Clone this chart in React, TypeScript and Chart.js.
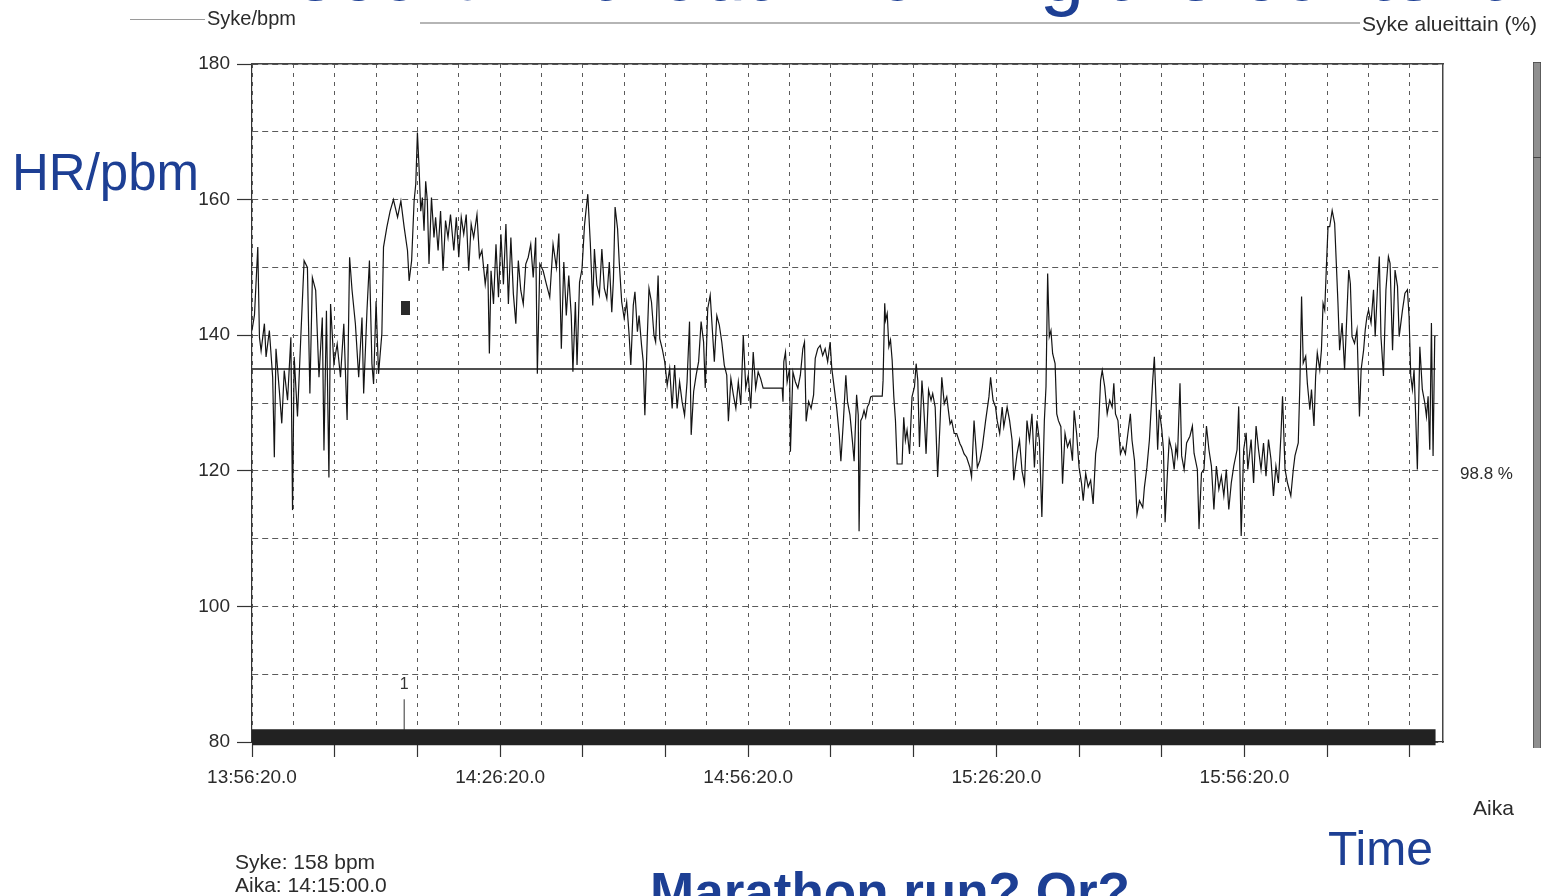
import React, { useEffect, useRef } from "react";
import { Chart, registerables } from "chart.js";

Chart.register(...registerables);

// ---- Axis labels ----
const xLabelMinutes = [0, 30, 60, 90, 120];
const xTickLabels = ["13:56:20.0", "14:26:20.0", "14:56:20.0", "15:26:20.0", "15:56:20.0"];
const yLabelValues = [80, 100, 120, 140, 160, 180];

// ---- Heart rate trace: [minutes from 13:56:20, bpm] ----
const hrSegment1: [number, number][] = [
  [0.0, 140.7], [0.3, 143], [0.7, 153], [0.9, 139.7], [1.1, 137.7], [1.5, 141.7], [1.7, 136.8], [2.1, 140.7],
  [2.5, 133.8], [2.7, 122], [2.9, 138], [3.3, 131.9], [3.6, 127], [3.9, 134.8], [4.3, 130.4], [4.7, 139.7],
  [4.9, 114.2], [5.1, 136.8], [5.5, 128], [5.9, 139.7], [6.3, 151], [6.7, 150], [7.0, 131.4], [7.3, 148.5],
  [7.7, 146.6], [8.1, 133.8], [8.5, 142.6], [8.7, 123], [9.0, 143.6], [9.3, 119], [9.5, 144.6], [9.9, 135.8],
  [10.3, 138.7], [10.7, 133.8], [11.1, 141.7], [11.5, 127.5], [11.8, 151.5], [12.1, 146.6], [12.5, 141.7],
  [12.9, 133.8], [13.3, 142.6], [13.5, 131.4], [13.9, 143.6], [14.2, 151], [14.5, 135.8], [14.7, 132.8],
  [15.0, 145], [15.3, 134.3], [15.7, 140.2], [15.9, 153], [16.3, 155.9], [16.7, 158.3], [17.1, 160],
  [17.6, 157.4], [18.0, 159.8], [18.4, 155.9], [18.8, 152.5], [19.0, 148], [19.3, 151], [19.6, 159.8],
  [19.8, 162.3], [20.0, 169.9], [20.2, 164.7], [20.4, 158.3], [20.6, 160.3], [20.8, 155.4], [21.0, 162.7],
  [21.2, 159.8], [21.4, 150.5], [21.7, 160.3], [22.0, 154.4], [22.2, 157.4], [22.5, 152.5], [22.8, 158.3],
  [23.1, 149.5], [23.4, 156.9], [23.7, 154.4], [24.0, 157.8], [24.4, 152.5], [24.7, 157.4], [25.0, 151.5],
  [25.3, 157.4], [25.6, 154.9], [25.9, 157.8], [26.2, 149.5], [26.5, 156.4], [26.8, 154.4], [27.2, 157.8],
  [27.5, 151.5], [27.8, 152.5], [28.2, 147.5], [28.5, 150.5], [28.7, 137.3], [28.9, 149.5], [29.2, 144.6],
  [29.5, 153.4], [29.8, 145.6], [30.1, 154.9], [30.4, 147.5], [30.7, 156.4], [31.0, 144.6], [31.3, 154.4],
  [31.6, 146.1], [31.9, 141.7], [32.2, 151], [32.5, 146.6], [32.8, 144.6], [33.1, 150.5], [33.4, 151.5],
  [33.7, 153.4], [34.0, 148.5], [34.3, 154.4], [34.5, 134.3], [34.8, 150.5], [35.2, 149.5], [35.6, 147.5],
  [36.0, 145.6], [36.4, 153.4], [36.8, 150],
];

const hrSegment2: [number, number][] = [
  [37.1, 155], [37.4, 138], [37.7, 150.8], [38.0, 142.9], [38.3, 148.8], [38.6, 142.9], [38.8, 134.6],
  [39.1, 144.9], [39.3, 135.6], [39.6, 147.8], [39.9, 149.8], [40.2, 156.2], [40.4, 158.6], [40.6, 160.8],
  [40.9, 153.7], [41.2, 144.4], [41.4, 152.7], [41.7, 147.4], [42.0, 145.9], [42.3, 152.7], [42.6, 146.9],
  [42.9, 145.4], [43.2, 150.8], [43.5, 143.4], [43.7, 148.3], [43.9, 158.9], [44.2, 155.7], [44.4, 150.8],
  [44.7, 144.9], [45.0, 142.5], [45.3, 144.9], [45.6, 140], [45.8, 135.6], [46.1, 144.4], [46.3, 146.4],
  [46.6, 140.5], [46.8, 142.9], [47.1, 138.5], [47.3, 136.1], [47.5, 128.2], [47.8, 140], [48.0, 146.9],
  [48.3, 144.9], [48.6, 140], [48.8, 139], [49.1, 148.8], [49.3, 139.5], [49.6, 138], [49.9, 136.1],
  [50.2, 132.6], [50.5, 135.1], [50.8, 129.2], [51.1, 135.6], [51.4, 129.2], [51.7, 133.1], [52.0, 130.2],
  [52.3, 128.2], [52.6, 133.1], [52.9, 142], [53.1, 125.3], [53.4, 131.7], [53.7, 134.1], [54.0, 136.1],
  [54.3, 142], [54.6, 139], [54.8, 132.2], [55.1, 143.9], [55.4, 145.9], [55.7, 140], [55.9, 136.1],
  [56.2, 142.9], [56.5, 141.5], [56.8, 139], [57.1, 135.6], [57.4, 134.1], [57.6, 127.3], [57.9, 133.6],
  [58.2, 131.2], [58.5, 129.2], [58.8, 133.1], [59.1, 129.7], [59.4, 140], [59.7, 132.2], [60.0, 134.1],
  [60.3, 129.2], [60.6, 137.5], [60.9, 132.2], [61.2, 134.6], [61.5, 133.6], [61.8, 132.2], [64.1, 132.2],
  [64.2, 130.2], [64.3, 136.1], [64.5, 137.5], [64.7, 133.1], [65.0, 135.1], [65.1, 122.8], [65.4, 134.6],
  [65.7, 133.1], [66.0, 132.2], [66.3, 134.1], [66.6, 138], [66.8, 139], [67.0, 127.3], [67.3, 130.2],
  [67.6, 129.2], [67.9, 131.2], [68.1, 136.6], [68.4, 138], [68.7, 138.5], [69.0, 137], [69.3, 138],
  [69.6, 136.1], [69.9, 139], [70.1, 135.1], [70.4, 132.2], [70.7, 129.2], [71.0, 125.3], [71.2, 121.4],
  [71.5, 127.3], [71.8, 134.1], [72.0, 130.2], [72.3, 128.2], [72.6, 124.3], [72.8, 121.4], [73.1, 131.2],
  [73.3, 128.2], [73.4, 111.1],
];

const hrSegment3: [number, number][] = [
  [73.6, 127.4], [73.8, 127.9], [74.0, 128.9], [74.2, 127.9], [74.4, 129.4], [74.6, 129.9], [74.8, 130.9],
  [75.0, 131], [76.2, 131], [76.3, 133.3], [76.5, 144.7], [76.6, 142.2], [76.8, 143.2], [77.0, 138.3],
  [77.2, 139.3], [77.4, 136.3], [77.6, 130.9], [77.8, 127.4], [78.0, 121], [78.6, 121], [78.8, 127.9],
  [79.0, 124.5], [79.2, 126], [79.5, 122.5], [79.8, 130.9], [80.1, 132.4], [80.3, 135.8], [80.5, 133.3],
  [80.7, 123.5], [81.0, 133.3], [81.2, 129.9], [81.5, 122.5], [81.8, 131.9], [82.1, 130.4], [82.3, 131.4],
  [82.6, 129.4], [82.9, 119.1], [83.2, 127.4], [83.4, 133.8], [83.7, 129.9], [84.0, 130.9], [84.4, 126.9],
  [84.6, 127.4], [84.9, 125.5], [85.2, 125.5], [85.6, 124], [85.8, 123.5], [86.1, 122.5], [86.4, 122],
  [86.8, 120.5], [87.0, 119.1], [87.3, 127.4], [87.7, 120.5], [88.0, 121.5], [88.3, 123.5], [88.7, 127.4],
  [89.1, 130.9], [89.3, 133.8], [89.6, 130.4], [89.9, 129.4], [90.1, 127.4], [90.4, 125.5], [90.7, 129.4],
  [90.9, 126.5], [91.3, 129.4], [91.6, 127.4], [91.9, 124.5], [92.1, 118.6], [92.5, 122.5], [92.8, 124.5],
  [93.1, 120], [93.4, 118.1], [93.7, 127.4], [94.0, 124.5], [94.3, 128.4], [94.6, 120.5], [94.9, 127.4],
  [95.2, 124.5], [95.5, 113.2], [95.8, 127.4], [96.0, 132.4], [96.2, 149.1], [96.4, 139.8], [96.6, 140.7],
  [96.8, 137.3], [97.1, 135.8], [97.3, 128.4], [97.5, 127.4], [97.8, 126.5], [98.0, 118.1], [98.3, 125.5],
  [98.6, 123.5], [98.9, 124.5], [99.2, 121.5], [99.4, 128.9], [99.7, 125.5], [100.0, 120.5], [100.3, 118.1],
  [100.5, 115.6], [100.8, 119.6], [101.1, 117.6], [101.4, 118.6], [101.7, 115.1], [102.0, 122.5],
  [102.3, 125], [102.6, 133.3], [102.8, 134.8], [103.1, 132.4], [103.4, 128.4], [103.7, 130.4],
  [104.0, 129.4], [104.2, 132.9], [104.4, 128.4], [104.7, 127.4], [105.0, 122.5], [105.3, 123.5],
  [105.6, 122.5], [105.9, 125.5], [106.2, 128.4], [106.4, 124.5], [106.7, 121.5], [107.0, 113.6],
  [107.3, 115.6], [107.7, 114.6], [107.9, 117.6], [108.2, 120.5], [108.5, 124.5], [108.9, 133.3],
  [109.1, 136.8],
];

const hrSegment4: [number, number][] = [
  [109.3, 130.5], [109.5, 123.1], [109.7, 129], [110.0, 126.1], [110.2, 123.1], [110.4, 112.4],
  [110.7, 120.2], [110.9, 124.6], [111.2, 123.1], [111.5, 120.2], [111.7, 123.6], [111.9, 122.2],
  [112.2, 132.9], [112.4, 122.2], [112.7, 120.2], [113.0, 124.1], [113.4, 125.1], [113.7, 126.6],
  [113.9, 122.6], [114.3, 120.2], [114.5, 111.4], [114.8, 119.7], [115.1, 120.2], [115.4, 126.6],
  [115.7, 123.1], [116.0, 120.7], [116.3, 114.3], [116.6, 120.7], [116.9, 117.3], [117.2, 119.2],
  [117.5, 116.3], [117.8, 120.2], [118.1, 114.3], [118.4, 118.2], [118.7, 120.7], [119.1, 123.1],
  [119.3, 129.5], [119.6, 110.4], [119.9, 123.1], [120.2, 125.6], [120.4, 120.2], [120.8, 124.6],
  [121.1, 118.2], [121.4, 126.6], [121.7, 123.1], [122.0, 120.2], [122.3, 124.1], [122.6, 119.2],
  [122.9, 124.6], [123.2, 121.7], [123.5, 116.3], [123.8, 120.7], [124.1, 118.2], [124.4, 125.1],
  [124.6, 131], [124.9, 120.2], [125.2, 118.2], [125.6, 116.3], [125.9, 120.2], [126.1, 122.2],
  [126.5, 124.1], [126.7, 132.9], [126.9, 145.7], [127.1, 135.9], [127.4, 136.9], [127.6, 132.9],
  [127.9, 129], [128.1, 132], [128.4, 126.6], [128.6, 133.9], [128.8, 137.4], [129.1, 134.9],
  [129.3, 137.8], [129.5, 144.7], [129.7, 143.7], [129.9, 150.1], [130.1, 156], [130.3, 156],
  [130.6, 158.4], [130.9, 156.5], [131.1, 150.6], [131.3, 144.7], [131.5, 137.8], [131.8, 141.8],
  [132.1, 134.9], [132.4, 143.7], [132.6, 149.6], [132.8, 147.6], [133.0, 139.8], [133.3, 138.8],
  [133.6, 140.8], [133.9, 128], [134.1, 134.9], [134.4, 137.8], [134.6, 140.8], [134.8, 142.7],
  [135.0, 143.7], [135.3, 141.8], [135.6, 146.7], [135.8, 139.8], [136.1, 147.6], [136.3, 151.6],
  [136.5, 139.8], [136.8, 134], [137.1, 146.7], [137.4, 151.6], [137.6, 150.6], [137.9, 137.8],
  [138.2, 149.6], [138.5, 147.2], [138.7, 139.8], [139.1, 143.7], [139.4, 146.2], [139.7, 146.7],
  [139.9, 142.7], [140.1, 134], [140.3, 132], [140.5, 134.9], [140.7, 128], [140.9, 120.2],
  [141.2, 138.3], [141.5, 132], [141.8, 130], [142.0, 128], [142.2, 131], [142.4, 123.1],
  [142.6, 141.8], [142.8, 122.2], [143.0, 139.8], [143.1, 139.8],
];

// ---- Other marks ----
const averageHr = 135;
const recordStart = 0;
const recordEnd = 143.1;
const axisMinutesMax = 144;
const zoneBarLevel = 80.7;
const lapMinutes = [18.4];
const lapLabels = ["1"];
const lapLineRange = [81.8, 86.3];
const lapLabelLevel = 88.4;
const cursorMarker: [number, number] = [18.55, 144];
const zoneShares = [86.1, 13.9];

const FONT = "'Liberation Sans', Arial, sans-serif";
const BLUE = "#1d3f94";
const INK = "#2b2b2b";

export default function App() {
  const mainRef = useRef<HTMLCanvasElement | null>(null);
  const zoneRef = useRef<HTMLCanvasElement | null>(null);

  useEffect(() => {
    if (!mainRef.current || !zoneRef.current) return;
    const hr = [...hrSegment1, ...hrSegment2, ...hrSegment3, ...hrSegment4].map(([x, y]) => ({ x, y }));

    const marker = document.createElement("canvas");
    marker.width = 9;
    marker.height = 14;
    const mctx = marker.getContext("2d");
    if (mctx) {
      mctx.fillStyle = "#2a2a2a";
      mctx.fillRect(0, 0, 9, 14);
    }

    const lapLabelPlugin = {
      id: "lapLabels",
      afterDatasetsDraw(chart: any) {
        const { ctx, scales } = chart;
        ctx.save();
        ctx.font = `16px ${FONT}`;
        ctx.fillStyle = "#333";
        ctx.textAlign = "center";
        ctx.textBaseline = "middle";
        lapMinutes.forEach((m, i) => {
          ctx.fillText(lapLabels[i], scales.x.getPixelForValue(m), scales.y.getPixelForValue(lapLabelLevel));
        });
        ctx.restore();
      },
    };

    const tickFont = { family: FONT, size: 19 };

    const chart = new Chart(mainRef.current, {
      type: "line",
      data: {
        datasets: [
          {
            label: "Syke",
            data: hr,
            borderColor: "#141414",
            borderWidth: 1.2,
            pointRadius: 0,
            tension: 0,
          },
          {
            label: "Keskiarvo",
            data: [
              { x: recordStart, y: averageHr },
              { x: recordEnd, y: averageHr },
            ],
            borderColor: "#151515",
            borderWidth: 1.5,
            pointRadius: 0,
          },
          {
            label: "Alue",
            data: [
              { x: recordStart, y: zoneBarLevel },
              { x: recordEnd, y: zoneBarLevel },
            ],
            borderColor: "#222",
            borderWidth: 16,
            borderCapStyle: "butt",
            pointRadius: 0,
            clip: false,
          } as any,
          {
            label: "Kierros",
            data: [
              { x: lapMinutes[0], y: lapLineRange[0] },
              { x: lapMinutes[0], y: lapLineRange[1] },
            ],
            borderColor: "#333",
            borderWidth: 1,
            pointRadius: 0,
          },
          {
            label: "Kursori",
            data: [{ x: cursorMarker[0], y: cursorMarker[1] }],
            showLine: false,
            pointStyle: marker as any,
            pointRadius: 7,
          },
        ],
      },
      options: {
        responsive: false,
        animation: false,
        layout: { padding: { left: 0, right: 98, top: 64, bottom: 0 } },
        plugins: { legend: { display: false }, tooltip: { enabled: false } },
        scales: {
          x: {
            type: "linear",
            position: "bottom",
            min: 0,
            max: axisMinutesMax,
            afterFit: (s: any) => {
              s.height = 154;
            },
            ticks: {
              stepSize: 5,
              includeBounds: false,
              autoSkip: false,
              maxRotation: 0,
              minRotation: 0,
              padding: 9,
              color: INK,
              font: tickFont,
              callback: (v: any) => {
                const i = xLabelMinutes.indexOf(Number(v));
                return i >= 0 ? xTickLabels[i] : "";
              },
            },
            grid: {
              color: "#5a5a5a",
              lineWidth: 1,
              tickLength: 15,
              tickWidth: 1.2,
              tickColor: (c: any) => (c.tick && c.tick.value % 10 === 0 ? "#333" : "rgba(0,0,0,0)"),
            },
            border: { display: true, color: "#333", width: 1.2, dash: [4, 5] },
          },
          y: {
            type: "linear",
            min: 80,
            max: 180,
            afterFit: (s: any) => {
              s.width = 252;
            },
            ticks: {
              stepSize: 10,
              padding: 7,
              color: INK,
              font: tickFont,
              callback: (v: any) => (yLabelValues.includes(Number(v)) ? String(v) : ""),
            },
            grid: {
              color: "#5a5a5a",
              lineWidth: 1,
              tickLength: 15,
              tickWidth: 1.2,
              tickColor: (c: any) => (c.tick && yLabelValues.includes(c.tick.value) ? "#333" : "rgba(0,0,0,0)"),
            },
            border: { display: true, color: "#333", width: 1.2, dash: [6, 4] },
          },
          x2: {
            type: "linear",
            position: "top",
            min: 0,
            max: axisMinutesMax,
            afterFit: (s: any) => {
              s.height = 0;
            },
            ticks: { display: false },
            grid: { display: false, drawTicks: false },
            border: { display: true, color: "#444", width: 1.5 },
          },
          y2: {
            type: "linear",
            position: "right",
            min: 80,
            max: 180,
            afterFit: (s: any) => {
              s.width = 0;
            },
            ticks: { display: false },
            grid: { display: false, drawTicks: false },
            border: { display: true, color: "#444", width: 1.5 },
          },
        },
      } as any,
      plugins: [lapLabelPlugin],
    });

    const zoneChart = new Chart(zoneRef.current, {
      type: "bar",
      data: {
        labels: ["alue"],
        datasets: zoneShares.map((v) => ({
          data: [v],
          backgroundColor: "#8f8f8f",
          borderColor: "#444",
          borderWidth: 1,
          barPercentage: 1,
          categoryPercentage: 1,
        })),
      },
      options: {
        responsive: false,
        animation: false,
        layout: { padding: 0 },
        plugins: { legend: { display: false }, tooltip: { enabled: false } },
        scales: {
          x: { display: false, stacked: true },
          y: { display: false, stacked: true, min: 0, max: 100 },
        },
      },
    });

    return () => {
      chart.destroy();
      zoneChart.destroy();
    };
  }, []);

  const scanText = (text: string, left: number, top: number, size: number, extra: any = {}) => (
    <div
      style={{
        position: "absolute",
        left,
        top,
        fontFamily: FONT,
        fontSize: size,
        lineHeight: `${size}px`,
        color: INK,
        whiteSpace: "nowrap",
        ...extra,
      }}
    >
      {text}
    </div>
  );

  return (
    <div
      style={{
        position: "fixed",
        left: 0,
        top: 0,
        width: 1541,
        height: 896,
        overflow: "hidden",
        background: "#ffffff",
      }}
    >
      <canvas ref={mainRef} width={1541} height={896} style={{ position: "absolute", left: 0, top: 0 }} />
      <canvas ref={zoneRef} width={8} height={686} style={{ position: "absolute", left: 1533, top: 62 }} />

      {/* header rules of the printout */}
      <div style={{ position: "absolute", left: 130, top: 19, width: 75, height: 1, background: "#9a9a9a" }} />
      <div style={{ position: "absolute", left: 420, top: 22, width: 940, height: 1.5, background: "#b5b5b5" }} />

      {/* slide title, cut off at the top */}
      <div
        style={{
          position: "absolute",
          left: 235,
          top: -67,
          fontFamily: FONT,
          fontSize: 80,
          lineHeight: "80px",
          color: BLUE,
          whiteSpace: "nowrap",
        }}
      >
        Record without knowing the content
      </div>

      {scanText("Syke/bpm", 207, 8, 20)}
      {scanText("Syke alueittain (%)", 1362, 13, 21)}
      {scanText("98.8 %", 1460, 465, 17)}
      {scanText("Aika", 1473, 797, 21)}
      {scanText("Syke: 158 bpm", 235, 851, 21)}
      {scanText("Aika: 14:15:00.0", 235, 874, 21)}

      <div
        style={{
          position: "absolute",
          left: 12,
          top: 147,
          fontFamily: FONT,
          fontSize: 51,
          lineHeight: "51px",
          color: BLUE,
          whiteSpace: "nowrap",
        }}
      >
        HR/pbm
      </div>
      <div
        style={{
          position: "absolute",
          left: 1328,
          top: 825,
          fontFamily: FONT,
          fontSize: 48,
          lineHeight: "48px",
          color: BLUE,
          whiteSpace: "nowrap",
        }}
      >
        Time
      </div>
      <div
        style={{
          position: "absolute",
          left: 650,
          top: 865,
          fontFamily: FONT,
          fontSize: 53,
          lineHeight: "53px",
          fontWeight: "bold",
          color: BLUE,
          whiteSpace: "nowrap",
        }}
      >
        Marathon run? Or?
      </div>
    </div>
  );
}
